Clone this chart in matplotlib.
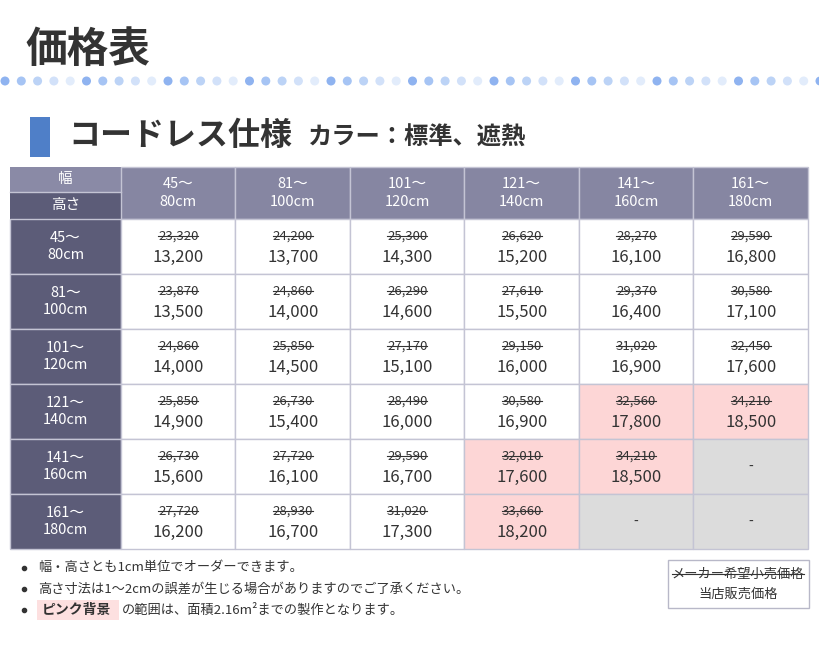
import matplotlib
matplotlib.use('Agg')
from matplotlib import pyplot as plt
from matplotlib.patches import Rectangle

plt.rcParams['font.family'] = 'Noto Sans CJK JP'

widthLabels = ['45～\n80cm', '81～\n100cm', '101～\n120cm', '121～\n140cm', '141～\n160cm', '161～\n180cm']
heightLabels = ['45～\n80cm', '81～\n100cm', '101～\n120cm', '121～\n140cm', '141～\n160cm', '161～\n180cm']

# maker list price (struck through) per row
listPrices = [
    [23320, 24200, 25300, 26620, 28270, 29590],
    [23870, 24860, 26290, 27610, 29370, 30580],
    [24860, 25850, 27170, 29150, 31020, 32450],
    [25850, 26730, 28490, 30580, 32560, 34210],
    [26730, 27720, 29590, 32010, 34210, None],
    [27720, 28930, 31020, 33660, None, None],
]
shopPrices = [
    [13200, 13700, 14300, 15200, 16100, 16800],
    [13500, 14000, 14600, 15500, 16400, 17100],
    [14000, 14500, 15100, 16000, 16900, 17600],
    [14900, 15400, 16000, 16900, 17800, 18500],
    [15600, 16100, 16700, 17600, 18500, None],
    [16200, 16700, 17300, 18200, None, None],
]
pinkCells = [(3, 4), (3, 5), (4, 3), (4, 4), (5, 3)]

notes = ['幅・高さとも1cm単位でオーダーできます。',
         '高さ寸法は1～2cmの誤差が生じる場合がありますのでご了承ください。',
         'の範囲は、面積2.16m²までの製作となります。']

fig = plt.figure(figsize=(8.2, 6.5), dpi=100)
ax = fig.add_axes([0, 0, 1, 1])
ax.set_xlim(0, 820)
ax.set_ylim(650, 0)
ax.axis('off')

# title and dotted rule
ax.text(25, 50, '価格表', fontsize=30, fontweight='bold', color='#333333', va='center')
dotColors = ['#8fb3f0', '#a6c4f4', '#bcd3f6', '#d2e1f9', '#e2ecfb']
for i in range(51):
    ax.add_patch(plt.Circle((5 + i * 16.3, 81), 4.5, color=dotColors[i % 5], lw=0))

# subtitle
ax.add_patch(Rectangle((30, 117), 20, 40, color='#4f7fc8', lw=0))
ax.text(68, 136, 'コードレス仕様', fontsize=23, fontweight='bold', color='#333333', va='center')
ax.text(308, 138, 'カラー：標準、遮熱', fontsize=17.5, fontweight='bold', color='#333333', va='center')

# table geometry
x0, hdrW, colW = 10, 111, 114.5
y0, hdrH, rowH = 167, 52, 55
lineC = '#c4c4d4'
headC = '#8686a2'
darkC = '#5c5c78'

ax.add_patch(Rectangle((x0, y0), hdrW, 25, color='#8a8aa6', lw=0))
ax.add_patch(Rectangle((x0, y0 + 25), hdrW, hdrH - 25, color=darkC, lw=0))
ax.text(x0 + hdrW / 2, y0 + 12, '幅', color='white', fontsize=10.5, ha='center', va='center')
ax.text(x0 + hdrW / 2, y0 + 38, '高さ', color='white', fontsize=10.5, ha='center', va='center')
ax.plot([x0, x0 + hdrW], [y0 + 25, y0 + 25], color=lineC, lw=1)

for j, lab in enumerate(widthLabels):
    cx = x0 + hdrW + j * colW
    ax.add_patch(Rectangle((cx, y0), colW, hdrH, facecolor=headC, edgecolor=lineC, lw=1))
    ax.text(cx + colW / 2, y0 + hdrH / 2, lab, color='white', fontsize=10.5, ha='center', va='center', linespacing=1.3)

strikeTexts = []
for i, lab in enumerate(heightLabels):
    cy = y0 + hdrH + i * rowH
    ax.add_patch(Rectangle((x0, cy), hdrW, rowH, facecolor=darkC, edgecolor=lineC, lw=1))
    ax.text(x0 + hdrW / 2, cy + rowH / 2, lab, color='white', fontsize=10.5, ha='center', va='center', linespacing=1.3)
    for j in range(6):
        cx = x0 + hdrW + j * colW
        if listPrices[i][j] is None:
            fc = '#dcdcdc'
        elif (i, j) in pinkCells:
            fc = '#fdd6d6'
        else:
            fc = 'white'
        ax.add_patch(Rectangle((cx, cy), colW, rowH, facecolor=fc, edgecolor=lineC, lw=1))
        if listPrices[i][j] is None:
            ax.text(cx + colW / 2, cy + rowH / 2, '-', fontsize=10, color='#333333', ha='center', va='center')
            continue
        t = ax.text(cx + colW / 2, cy + 17, f'{listPrices[i][j]:,}', fontsize=9.5, color='#333333', ha='center', va='center')
        strikeTexts.append(t)
        ax.text(cx + colW / 2, cy + 38, f'{shopPrices[i][j]:,}', fontsize=12, color='#333333', ha='center', va='center')

# notes
for k, note in enumerate(notes):
    ny = 568 + k * 21
    ax.plot(24, ny, 'o', color='#333333', ms=3)
    if k == 2:
        ax.add_patch(Rectangle((37, ny - 10), 82, 20, color='#fde0e0', lw=0))
        ax.text(42, ny, 'ピンク背景', fontsize=10, fontweight='bold', color='#333333', va='center')
        ax.text(122, ny, note, fontsize=9.5, color='#333333', va='center')
    else:
        ax.text(38, ny, note, fontsize=9.5, color='#333333', va='center')

# legend box
ax.add_patch(Rectangle((668, 560), 141, 48, facecolor='white', edgecolor='#b8b8c8', lw=1))
strikeTexts.append(ax.text(738, 574, 'メーカー希望小売価格', fontsize=9.5, color='#333333', ha='center', va='center'))
ax.text(738, 594, '当店販売価格', fontsize=9.5, color='#333333', ha='center', va='center')

# strike-through lines over list prices
fig.canvas.draw()
inv = ax.transData.inverted()
for t in strikeTexts:
    bb = t.get_window_extent()
    (xa, _), (xb, _) = inv.transform([(bb.x0, bb.y0), (bb.x1, bb.y1)])
    ya = t.get_position()[1] - 0.5
    ax.plot([xa, xb], [ya, ya], color='#333333', lw=0.8)

fig.savefig('out.png', dpi=100)
